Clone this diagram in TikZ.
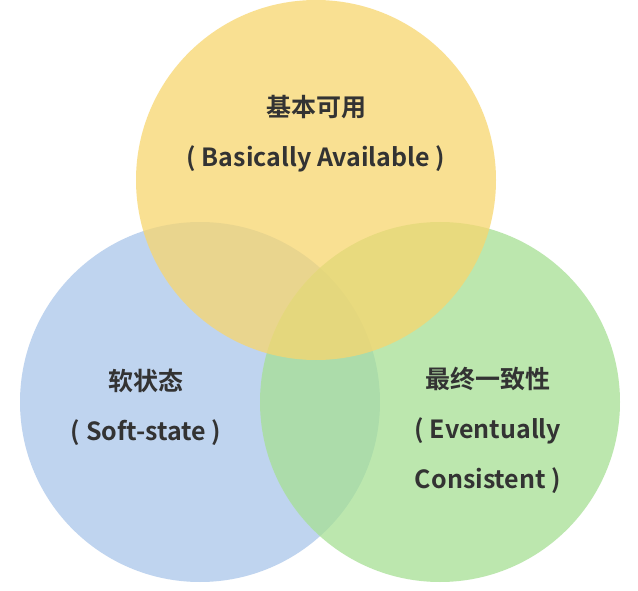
\documentclass[tikz,border=0pt]{standalone}
\usepackage{fontspec}
\setmainfont{Noto Sans CJK SC}[BoldFont={* Bold}]
\begin{document}
\begin{tikzpicture}[x=1pt,y=-1pt,
  circ/.style={fill opacity=0.75,draw=none},
  lbl/.style={text=black!80,font=\bfseries\fontsize{25}{50}\selectfont,align=center}]
\useasboundingbox[fill=white] (0,0) rectangle (638,591);
\fill[circ,fill={rgb,255:red,170;green,198;blue,234}] (200,402) circle (180);
\fill[circ,fill={rgb,255:red,166;green,224;blue,148}] (440,402) circle (180);
\fill[circ,fill={rgb,255:red,248;green,214;blue,110}] (316,180) circle (180);
\node[lbl] (a) at (316,134) {基本可用\\( Basically Available )};
\node[lbl] (s) at (146,407) {软状态\\( Soft-state )};
\node[lbl] (c) at (488,430) {最终一致性\\( Eventually\\Consistent )};
\end{tikzpicture}
\end{document}
